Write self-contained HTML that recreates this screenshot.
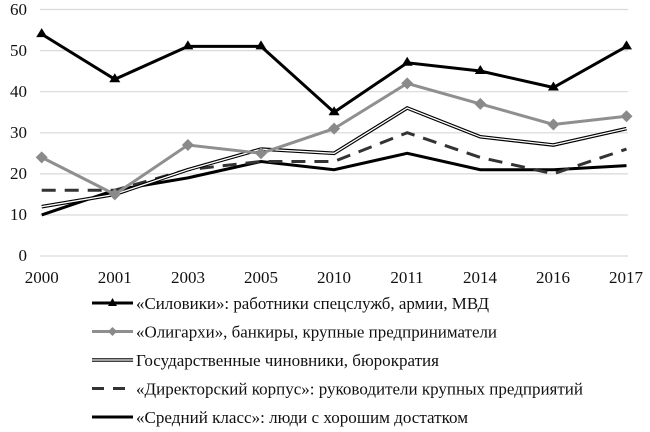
<!DOCTYPE html>
<html><head><meta charset="utf-8"><style>
html,body{margin:0;padding:0;background:#fff;}
svg{display:block;font-family:"Liberation Serif",serif;}
</style></head><body>
<svg width="650" height="432" viewBox="0 0 650 432" xmlns="http://www.w3.org/2000/svg">
<g stroke="#d9d9d9" stroke-width="1.2">
<line x1="40" x2="628" y1="9.5" y2="9.5"/>
<line x1="40" x2="628" y1="50.6" y2="50.6"/>
<line x1="40" x2="628" y1="91.7" y2="91.7"/>
<line x1="40" x2="628" y1="132.8" y2="132.8"/>
<line x1="40" x2="628" y1="173.9" y2="173.9"/>
<line x1="40" x2="628" y1="215" y2="215"/>
<line x1="40" x2="628" y1="256" y2="256"/>
</g>
<g font-size="17" text-anchor="end" fill="#111">
<text x="27" y="15">60</text><text x="27" y="56">50</text><text x="27" y="97">40</text>
<text x="27" y="138">30</text><text x="27" y="179">20</text><text x="27" y="220">10</text><text x="27" y="261">0</text>
</g>
<g font-size="17" text-anchor="middle" fill="#111">
<text x="41.7" y="283">2000</text><text x="114.8" y="283">2001</text><text x="188" y="283">2003</text>
<text x="261" y="283">2005</text><text x="334" y="283">2010</text><text x="407" y="283">2011</text>
<text x="480" y="283">2014</text><text x="553" y="283">2016</text><text x="626" y="283">2017</text>
</g>
<!-- x(i)=41.7+73.1i ; y(v)=256-4.11v -->
<!-- Средний -->
<polyline fill="none" stroke="#000" stroke-width="3" points="41.7,214.9 114.8,190.2 187.9,177.9 261,161.5 334.1,169.7 407.2,153.3 480.3,169.7 553.4,169.7 626.5,165.6"/>
<!-- Директор -->
<polyline fill="none" stroke="#333" stroke-width="3" stroke-dasharray="14,9" points="41.7,190.2 114.8,190.2 187.9,169.7 261,161.5 334.1,161.5 407.2,132.7 480.3,157.4 553.4,173.8 626.5,149.1"/>
<!-- Госуд -->
<polyline fill="none" stroke="#000" stroke-width="3.6" points="41.7,206.7 114.8,194.4 187.9,169.7 261,149.1 334.1,153.3 407.2,108 480.3,136.8 553.4,145 626.5,128.6"/>
<polyline fill="none" stroke="#fff" stroke-width="1.3" points="41.7,206.7 114.8,194.4 187.9,169.7 261,149.1 334.1,153.3 407.2,108 480.3,136.8 553.4,145 626.5,128.6"/>
<!-- Олигархи -->
<polyline fill="none" stroke="#8f8f8f" stroke-width="3" points="41.7,157.4 114.8,194.4 187.9,145 261,153.3 334.1,128.6 407.2,83.4 480.3,103.9 553.4,124.5 626.5,116.3"/>
<g fill="#8a8a8a">
<path d="M41.7,151.4l6,6l-6,6l-6,-6z"/><path d="M114.8,188.4l6,6l-6,6l-6,-6z"/><path d="M187.9,139l6,6l-6,6l-6,-6z"/>
<path d="M261,147.3l6,6l-6,6l-6,-6z"/><path d="M334.1,122.6l6,6l-6,6l-6,-6z"/><path d="M407.2,77.4l6,6l-6,6l-6,-6z"/>
<path d="M480.3,97.9l6,6l-6,6l-6,-6z"/><path d="M553.4,118.5l6,6l-6,6l-6,-6z"/><path d="M626.5,110.3l6,6l-6,6l-6,-6z"/>
</g>
<!-- Силовики -->
<polyline fill="none" stroke="#000" stroke-width="3" points="41.7,34.1 114.8,79.3 187.9,46.4 261,46.4 334.1,112.2 407.2,62.8 480.3,71 553.4,87.5 626.5,46.4"/>
<g fill="#000">
<path d="M41.7,28.1l5.5,9h-11z"/><path d="M114.8,73.3l5.5,9h-11z"/><path d="M187.9,40.4l5.5,9h-11z"/>
<path d="M261,40.4l5.5,9h-11z"/><path d="M334.1,106.2l5.5,9h-11z"/><path d="M407.2,56.8l5.5,9h-11z"/>
<path d="M480.3,65l5.5,9h-11z"/><path d="M553.4,81.5l5.5,9h-11z"/><path d="M626.5,40.4l5.5,9h-11z"/>
</g>
<!-- Legend -->
<line x1="92" x2="133" y1="303" y2="303" stroke="#000" stroke-width="3"/>
<path d="M112.5,298l4.5,8h-9z" fill="#000"/>
<line x1="92" x2="133" y1="331.5" y2="331.5" stroke="#8f8f8f" stroke-width="3"/>
<path d="M112.5,327l4.5,4.5l-4.5,4.5l-4.5,-4.5z" fill="#8a8a8a"/>
<line x1="92" x2="133" y1="360" y2="360" stroke="#000" stroke-width="3.6"/>
<line x1="92" x2="133" y1="360" y2="360" stroke="#fff" stroke-width="1.3"/>
<line x1="92" x2="133" y1="388.5" y2="388.5" stroke="#333" stroke-width="3" stroke-dasharray="12,9"/>
<line x1="92" x2="133" y1="417" y2="417" stroke="#000" stroke-width="3"/>
<g font-size="17" fill="#111">
<text x="136" y="309" textLength="353" lengthAdjust="spacingAndGlyphs">«Силовики»: работники спецслужб, армии, МВД</text>
<text x="136" y="337.5" textLength="361" lengthAdjust="spacingAndGlyphs">«Олигархи», банкиры, крупные предприниматели</text>
<text x="136" y="366" textLength="303" lengthAdjust="spacingAndGlyphs">Государственные чиновники, бюрократия</text>
<text x="136" y="394.5" textLength="447" lengthAdjust="spacingAndGlyphs">«Директорский корпус»: руководители крупных предприятий</text>
<text x="136" y="423" textLength="332" lengthAdjust="spacingAndGlyphs">«Средний класс»: люди с хорошим достатком</text>
</g>
</svg>
</body></html>
